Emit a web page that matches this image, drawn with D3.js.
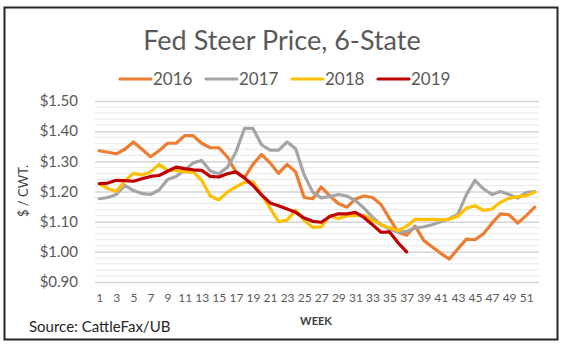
<!DOCTYPE html>
<html>
<head>
<meta charset="utf-8">
<script src="https://cdn.jsdelivr.net/npm/d3@7"></script>
<style>
  body { margin: 0; background: #fff; }
  svg { display: block; font-family: Lato, "Open Sans", sans-serif; }
</style>
</head>
<body>
<svg id="chart"></svg>
<script>
// weekly prices, $ per cwt
const weeks = d3.range(1, 53);
const years = ["2016", "2017", "2018", "2019"];
const colors = ["#ED7D31", "#A5A5A5", "#FFC000", "#C00000"];

const p2016 = [1.335, 1.33, 1.325, 1.34, 1.364, 1.34, 1.315, 1.335, 1.36, 1.36,
  1.385, 1.385, 1.36, 1.345, 1.345, 1.315, 1.265, 1.245, 1.29, 1.323,
  1.295, 1.26, 1.29, 1.265, 1.18, 1.176, 1.215, 1.185, 1.16, 1.148,
  1.175, 1.185, 1.18, 1.157, 1.11, 1.065, 1.055, 1.085, 1.038, 1.016,
  0.995, 0.976, 1.01, 1.042, 1.04, 1.06, 1.095, 1.126, 1.123, 1.095,
  1.12, 1.148];
const p2017 = [1.176, 1.18, 1.19, 1.22, 1.203, 1.193, 1.19, 1.205, 1.24, 1.25,
  1.27, 1.295, 1.303, 1.268, 1.259, 1.28, 1.33, 1.409, 1.409, 1.355,
  1.337, 1.337, 1.364, 1.342, 1.255, 1.198, 1.179, 1.183, 1.19, 1.185,
  1.17, 1.145, 1.115, 1.09, 1.075, 1.065, 1.068, 1.078, 1.083, 1.09,
  1.1, 1.11, 1.125, 1.19, 1.237, 1.209, 1.19, 1.2, 1.19, 1.178,
  1.196, 1.2];
const p2018 = [1.225, 1.21, 1.2, 1.235, 1.26, 1.255, 1.265, 1.29, 1.27, 1.27,
  1.265, 1.265, 1.237, 1.185, 1.172, 1.198, 1.215, 1.23, 1.232, 1.19,
  1.145, 1.1, 1.105, 1.138, 1.105, 1.081, 1.083, 1.12, 1.11, 1.12,
  1.12, 1.122, 1.105, 1.09, 1.08, 1.07, 1.085, 1.108, 1.107, 1.108,
  1.106, 1.108, 1.118, 1.145, 1.153, 1.137, 1.142, 1.164, 1.178, 1.183,
  1.186, 1.198];
const p2019 = [1.226, 1.228, 1.237, 1.236, 1.234, 1.242, 1.25, 1.253, 1.267, 1.281,
  1.276, 1.272, 1.27, 1.25, 1.248, 1.259, 1.265, 1.245, 1.22, 1.189,
  1.162, 1.153, 1.142, 1.131, 1.112, 1.101, 1.098, 1.117, 1.126, 1.126,
  1.131, 1.114, 1.09, 1.065, 1.066, 1.03, 1.0];
const series = [p2016, p2017, p2018, p2019];

const yTicks = [0.9, 1.0, 1.1, 1.2, 1.3, 1.4, 1.5];

const width = 564, height = 349;
const plotLeft = 95, plotRight = 539, plotTop = 101, plotBottom = 282;

const svg = d3.select("#chart").attr("width", width).attr("height", height);

// outer frame
svg.append("rect")
  .attr("x", 4.5).attr("y", 7.5)
  .attr("width", 553).attr("height", 332)
  .attr("fill", "#fff").attr("stroke", "#262626").attr("stroke-width", 2);

const x = d3.scalePoint().domain(weeks).range([plotLeft, plotRight]).padding(0.5);
const y = d3.scaleLinear().domain([0.9, 1.5]).range([plotBottom, plotTop]);

// minor gridlines every 0.02
const minor = d3.range(0.92, 1.5, 0.02).filter(v => Math.abs(v * 10 - Math.round(v * 10)) > 0.01);
svg.append("g").selectAll("line").data(minor).join("line")
  .attr("x1", plotLeft).attr("x2", plotRight)
  .attr("y1", d => y(d)).attr("y2", d => y(d))
  .attr("stroke", "#E8E8E8").attr("stroke-width", 1);

// major gridlines + labels
const yAxis = svg.append("g")
  .attr("transform", `translate(${plotLeft},0)`)
  .call(d3.axisLeft(y).tickValues(yTicks).tickSize(-(plotRight - plotLeft)).tickFormat(d => "$" + d.toFixed(2)));
yAxis.select(".domain").remove();
yAxis.selectAll(".tick line").attr("stroke", "#D4D4D4").attr("stroke-width", 1.5);
yAxis.selectAll(".tick text")
  .attr("x", -17).attr("fill", "#595959")
  .style("font-size", "15px").style("font-family", "Lato, sans-serif");

// x axis labels, every other week
const xAxis = svg.append("g")
  .attr("transform", `translate(0,${plotBottom})`)
  .call(d3.axisBottom(x).tickValues(weeks.filter(w => w % 2 === 1)).tickSize(0));
xAxis.select(".domain").remove();
xAxis.selectAll(".tick text")
  .attr("dy", "1.45em").attr("fill", "#595959")
  .style("font-size", "12px").style("font-family", "Lato, sans-serif");

// lines
const line = d3.line().x((d, i) => x(weeks[i])).y(d => y(d)).curve(d3.curveLinear);
svg.append("g").selectAll("path").data(series).join("path")
  .attr("d", d => line(d))
  .attr("fill", "none")
  .attr("stroke", (d, i) => colors[i])
  .attr("stroke-width", 3.2)
  .attr("stroke-linejoin", "round")
  .attr("stroke-linecap", "round");

// title
svg.append("text")
  .attr("x", 282).attr("y", 50)
  .attr("text-anchor", "middle")
  .attr("fill", "#595959")
  .style("font-size", "27px").style("font-weight", 400)
  .text("Fed Steer Price, 6-State");

// legend
const legendX = [120, 206, 292, 378];
const legend = svg.append("g").selectAll("g").data(years).join("g")
  .attr("transform", (d, i) => `translate(${legendX[i]},79)`);
legend.append("line")
  .attr("x1", 0).attr("x2", 31)
  .attr("stroke", (d, i) => colors[i])
  .attr("stroke-width", 3.2).attr("stroke-linecap", "round");
legend.append("text")
  .attr("x", 33).attr("y", 6)
  .attr("fill", "#595959")
  .style("font-size", "17px")
  .text(d => d);

// axis titles
svg.append("text")
  .attr("transform", "translate(28,191) rotate(-90)")
  .attr("text-anchor", "middle")
  .attr("fill", "#404040")
  .style("font-size", "13px")
  .text("$ / CWT.");

svg.append("text")
  .attr("x", 316).attr("y", 325)
  .attr("text-anchor", "middle")
  .attr("fill", "#404040")
  .style("font-size", "11px").style("font-weight", "bold")
  .text("WEEK");

svg.append("text")
  .attr("x", 29).attr("y", 332)
  .attr("fill", "#262626")
  .style("font-size", "15px")
  .text("Source: CattleFax/UB");
</script>
</body>
</html>
